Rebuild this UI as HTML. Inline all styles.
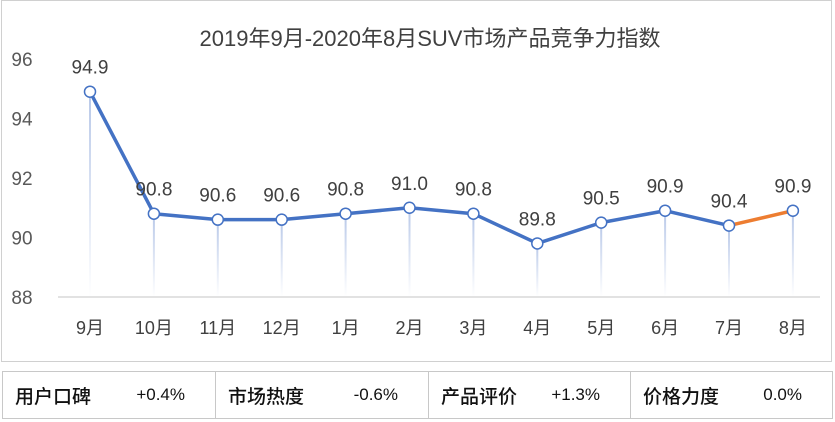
<!DOCTYPE html>
<html><head><meta charset="utf-8"><style>
body{margin:0;width:835px;height:422px;background:#fff;font-family:"Liberation Sans","Noto Sans CJK SC",sans-serif;overflow:hidden}
svg{position:absolute;left:0;top:0}
.tbl{position:absolute;left:2px;top:371px;width:831px;height:48px;border:1px solid #c8c8c8;box-sizing:border-box;display:flex}
.cell{height:100%;box-sizing:border-box;border-right:1px solid #c8c8c8;display:flex;align-items:center;font-size:19px;color:#111;font-weight:bold}
.cell:last-child{border-right:none}
.cell span.k{margin-left:12px;font-weight:500}
.cell span.v{margin-left:auto;margin-right:30px;font-size:17px;font-weight:normal}
</style></head><body>
<svg width="835" height="422">
<defs><linearGradient id="dg" x1="0" y1="0" x2="0" y2="1"><stop offset="0" stop-color="#b8c8e8"/><stop offset="1" stop-color="#b8c8e8" stop-opacity="0"/></linearGradient></defs>
<rect x="1.5" y="0.5" width="830" height="361" fill="#fff" stroke="#d0d0d0"/>
<text x="430" y="46" text-anchor="middle" font-size="22" fill="#404040">2019年9月-2020年8月SUV市场产品竞争力指数</text>
<g id="g"></g>
</svg>
<div class="tbl">
<div class="cell" style="width:213px"><span class="k">用户口碑</span><span class="v">+0.4%</span></div>
<div class="cell" style="width:213px"><span class="k">市场热度</span><span class="v">-0.6%</span></div>
<div class="cell" style="width:202px"><span class="k">产品评价</span><span class="v">+1.3%</span></div>
<div class="cell" style="flex:1"><span class="k">价格力度</span><span class="v">0.0%</span></div>
</div>
<script>
const categories=["9月","10月","11月","12月","1月","2月","3月","4月","5月","6月","7月","8月"];
const values=[94.9,90.8,90.6,90.6,90.8,91.0,90.8,89.8,90.5,90.9,90.4,90.9];
const yTicks=[88,90,92,94,96];
const NS="http://www.w3.org/2000/svg",g=document.getElementById("g");
const x=i=>90+i*63.9, y=v=>297-(v-88)*29.75;
function mk(t,a,txt){const e=document.createElementNS(NS,t);for(const k in a)e.setAttribute(k,a[k]);if(txt!=null)e.textContent=txt;g.appendChild(e);return e;}
yTicks.forEach(t=>{const e=mk("text",{x:22,y:y(t)+7,"text-anchor":"middle","font-size":19,fill:"#595959"},t);

});
const ax=mk("line",{x1:58,x2:820,y1:297,y2:297,stroke:"#d9d9d9","stroke-width":1.5});


categories.forEach((c,i)=>{const e=mk("text",{x:x(i),y:334,"text-anchor":"middle","font-size":18,fill:"#404040"},c);


const d=mk("rect",{x:x(i)-1,y:y(values[i]),width:2,height:297-y(values[i]),fill:"url(#dg)"});

});
for(let i=0;i<values.length-1;i++){const s=mk("line",{x1:x(i),y1:y(values[i]),x2:x(i+1),y2:y(values[i+1]),stroke:i==values.length-2?"#ed7d31":"#4472c4","stroke-width":3.5,"stroke-linecap":"round"});

}
values.forEach((v,i)=>{const c=mk("circle",{cx:x(i),cy:y(v),r:5.5,fill:"#fff",stroke:"#4472c4","stroke-width":1.5});


const l=mk("text",{x:x(i),y:y(v)-18,"text-anchor":"middle","font-size":19,fill:"#404040"},v.toFixed(1));

});
</script>
</body></html>
